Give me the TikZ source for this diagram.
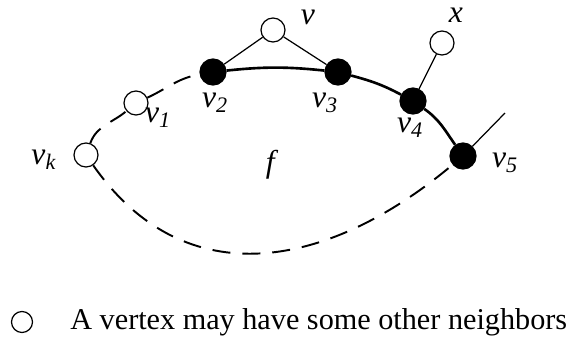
\documentclass[tikz,border=0pt]{standalone}
\usepackage{fontspec}
\setmainfont{Liberation Serif}
\newcommand{\vsub}[1]{\textit{v}\textsubscript{\textit{#1}}}
\begin{document}
\begin{tikzpicture}[
  x=0.02cm, y=0.02cm,
  hollow/.style={circle, draw, fill=white, line width=0.7pt, minimum size=0.48cm, inner sep=0pt},
  solid/.style={circle, draw, fill=black, line width=0.7pt, minimum size=0.52cm, inner sep=0pt},
  lab/.style={font=\fontsize{18}{20}\selectfont, inner sep=0pt},
  thinedge/.style={line width=0.7pt},
  boundary/.style={line width=1.5pt},
  walk/.style={line width=1.1pt, dash pattern=on 0.36cm off 0.24cm}
]
\useasboundingbox (0,0) rectangle (569,-342);
% vertices of the face
\node[hollow] (vk) at (86,-155) {};
\node[hollow] (v1) at (136,-103) {};
\node[solid] (v2) at (213,-72) {};
\node[solid] (v3) at (338,-72) {};
\node[solid] (v4) at (413,-101) {};
\node[solid] (v5) at (463,-156) {};
\node[hollow] (v) at (273,-30) {};
\node[hollow] (x) at (442,-43) {};
\coordinate (out5) at (505,-113);
% boundary of f
\draw[walk] (vk) to[out=70,in=220] (v1);
\draw[walk] (v1) to[out=25,in=190] (v2);
\draw[boundary] (v2) to[out=6,in=174] (v3);
\draw[boundary] (v3) to[out=-15,in=152] (v4);
\draw[boundary] (v4) to[out=-35,in=125] (v5);
\draw[walk] (vk) to[out=-55,in=-140,looseness=1.15] (v5);
% other neighbors
\draw[thinedge] (v) -- (v2);
\draw[thinedge] (v) -- (v3);
\draw[thinedge] (x) -- (v4);
\draw[thinedge] (v5) -- (out5);
% labels
\node[lab] (lv) at (308,-17) {\textit{v}};
\node[lab] (lx) at (456,-15) {\textit{x}};
\node[lab] (l1) at (158,-118) {\vsub{1}};
\node[lab] (l2) at (215,-103) {\vsub{2}};
\node[lab] (l3) at (325,-103) {\vsub{3}};
\node[lab] (l4) at (410,-128) {\vsub{4}};
\node[lab] (l5) at (505,-163) {\vsub{5}};
\node[lab] (lk) at (44,-160) {\vsub{k}};
\node[lab] (lf) at (272,-165) {\textit{f}};
% legend
\node[hollow, minimum size=0.42cm] (key) at (22,-322) {};
\node[lab, anchor=west, font=\fontsize{17.2}{19}\selectfont] (keytext) at (70,-322) {A vertex may have some other neighbors};
\end{tikzpicture}
\end{document}
